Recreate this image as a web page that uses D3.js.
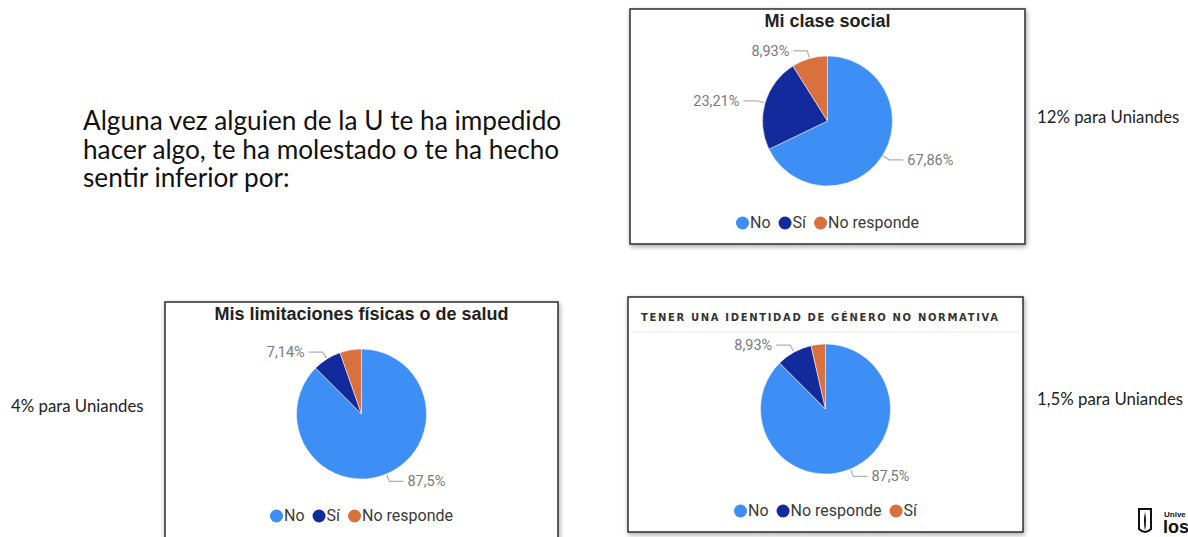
<!DOCTYPE html>
<html>
<head>
<meta charset="utf-8">
<script src="https://cdn.jsdelivr.net/npm/d3@7"></script>
<style>
  body { margin: 0; background: #fff; overflow: hidden; }
  svg { display: block; }
</style>
</head>
<body>
<div id="viz"></div>
<script>
// --- data ---
let headingLines = ['Alguna vez alguien de la U te ha impedido', 'hacer algo, te ha molestado o te ha hecho', 'sentir inferior por:'];

let claseTitle = 'Mi clase social';
let claseCats = ['No', 'Sí', 'No responde'];
let claseValues = [67.86, 23.21, 8.93];

let saludTitle = 'Mis limitaciones físicas o de salud';
let saludCats = ['No', 'Sí', 'No responde'];
let saludValues = [87.5, 7.14, 5.36];

let generoTitle = 'TENER UNA IDENTIDAD DE GÉNERO NO NORMATIVA';
let generoCats = ['No', 'No responde', 'Sí'];
let generoValues = [87.5, 8.93, 3.57];

let uniandesNotes = ['12% para Uniandes', '4% para Uniandes', '1,5% para Uniandes'];

let sliceColors = ['#3d8ef5', '#122a9c', '#d9713f'];

let width = 1188, height = 537;
let radius = 65;

let svg = d3.select('#viz').append('svg')
    .attr('width', width)
    .attr('height', height);

let defs = svg.append('defs');
defs.append('filter').attr('id', 'shadow')
    .attr('x', '-10%').attr('y', '-10%').attr('width', '120%').attr('height', '120%')
    .append('feDropShadow')
    .attr('dx', 1).attr('dy', 2).attr('stdDeviation', 2.5)
    .attr('flood-color', '#000').attr('flood-opacity', 0.35);

// heading on the left, one text per line
svg.selectAll('.heading')
    .data(headingLines)
    .enter()
    .append('text')
    .attr('class', 'heading')
    .attr('x', 83)
    .attr('y', (d, i) => 130 + i * 28.5)
    .style('font-family', 'Lato, sans-serif')
    .style('font-size', '26.2px')
    .style('fill', '#111')
    .text(d => d);

// notes beside the charts
let notePos = [[1037, 119], [11, 408], [1037, 401]];
svg.selectAll('.note')
    .data(uniandesNotes)
    .enter()
    .append('text')
    .attr('class', 'note')
    .attr('x', (d, i) => notePos[i][0])
    .attr('y', (d, i) => notePos[i][1])
    .attr('dominant-baseline', 'middle')
    .style('font-family', 'Lato, sans-serif')
    .style('font-size', '16.8px')
    .style('fill', '#222')
    .text(d => d);

let panels = [
    {title: claseTitle, cats: claseCats, values: claseValues, x: 630, y: 9, w: 395, h: 235, titleStyle: 'bold'},
    {title: saludTitle, cats: saludCats, values: saludValues, x: 165, y: 302, w: 393, h: 260, titleStyle: 'bold'},
    {title: generoTitle, cats: generoCats, values: generoValues, x: 628, y: 297, w: 395, h: 235, titleStyle: 'caps'}
];

for (let p of panels) {
    make_panel(p);
}

function make_panel(p) {
    let g = svg.append('g').attr('transform', 'translate(' + p.x + ',' + p.y + ')');

    g.append('rect')
        .attr('width', p.w)
        .attr('height', p.h)
        .attr('fill', '#fff')
        .attr('stroke', '#3a3a3a')
        .attr('stroke-width', 1.6)
        .attr('filter', 'url(#shadow)');

    if (p.titleStyle === 'bold') {
        g.append('text')
            .attr('x', p.w / 2)
            .attr('y', 18)
            .attr('text-anchor', 'middle')
            .style('font-family', '"Liberation Sans", Arial, sans-serif')
            .style('font-weight', 'bold')
            .style('font-size', '18px')
            .style('fill', '#222')
            .text(p.title);
    } else {
        g.append('text')
            .attr('x', 13)
            .attr('y', 24)
            .attr('textLength', 357)
            .attr('lengthAdjust', 'spacing')
            .style('font-family', '"DejaVu Sans", sans-serif')
            .style('font-weight', 'bold')
            .style('font-size', '10px')
            .style('fill', '#333')
            .text(p.title);
        g.append('line')
            .attr('x1', 2).attr('x2', p.w - 2)
            .attr('y1', 35).attr('y2', 35)
            .attr('stroke', '#f0f0f0')
            .attr('stroke-width', 1.5);
    }

    let cx = p.w / 2, cy = 112;

    let pie = d3.pie().sort(null).value(d => d.value);
    let data_ready = pie(p.cats.map((c, i) => ({key: c, value: p.values[i], idx: i})));

    let color = d3.scaleOrdinal().domain(p.cats).range(sliceColors);

    let arcGenerator = d3.arc().innerRadius(0).outerRadius(radius);

    let pieG = g.append('g').attr('transform', 'translate(' + cx + ',' + cy + ')');

    pieG.selectAll('path')
        .data(data_ready)
        .enter()
        .append('path')
        .attr('d', arcGenerator)
        .attr('fill', d => color(d.data.key))
        .attr('stroke', '#fff')
        .attr('stroke-width', 0.5);

    // leader lines + labels for the larger slices
    let labelled = data_ready.filter(d => d.data.value > 6);
    let pointAt = (a, r) => [r * Math.sin(a), -r * Math.cos(a)];

    pieG.selectAll('polyline')
        .data(labelled)
        .enter()
        .append('polyline')
        .attr('points', d => {
            let a = (d.startAngle + d.endAngle) / 2;
            let p1 = pointAt(a, radius + 1);
            let p2 = pointAt(a, radius + 8);
            let side = Math.sin(a) >= 0 ? 1 : -1;
            let p3 = [p2[0] + side * 14, p2[1]];
            return [p1, p2, p3].map(q => q.join(',')).join(' ');
        })
        .attr('fill', 'none')
        .attr('stroke', '#b0b0b0')
        .attr('stroke-width', 1.2);

    pieG.selectAll('.lbl')
        .data(labelled)
        .enter()
        .append('text')
        .attr('class', 'lbl')
        .attr('x', d => {
            let a = (d.startAngle + d.endAngle) / 2;
            let side = Math.sin(a) >= 0 ? 1 : -1;
            return pointAt(a, radius + 8)[0] + side * 18;
        })
        .attr('y', d => pointAt((d.startAngle + d.endAngle) / 2, radius + 8)[1] + 1)
        .attr('text-anchor', d => Math.sin((d.startAngle + d.endAngle) / 2) >= 0 ? 'start' : 'end')
        .attr('dominant-baseline', 'middle')
        .style('font-family', 'Roboto, sans-serif')
        .style('font-size', '14.5px')
        .style('fill', '#7a7a7a')
        .text(d => String(d.data.value).replace('.', ',') + '%');

    // legend, centred under the pie
    let leg = g.append('g').attr('transform', 'translate(0,214)');
    let items = leg.selectAll('g')
        .data(p.cats)
        .enter()
        .append('g');
    items.append('circle')
        .attr('r', 6.5)
        .attr('cx', 6.5)
        .attr('fill', d => color(d));
    items.append('text')
        .attr('x', 14)
        .attr('dominant-baseline', 'middle')
        .attr('y', 1)
        .style('font-family', 'Roboto, sans-serif')
        .style('font-size', '16px')
        .style('fill', '#3a3a3a')
        .text(d => d);

    let offsets = [], total = 0;
    items.each(function () {
        offsets.push(total);
        total += 14 + this.querySelector('text').getComputedTextLength() + 8;
    });
    total -= 8;
    let start = cx - total / 2;
    items.attr('transform', (d, i) => 'translate(' + (start + offsets[i]) + ',0)');
}

// university logo, as much of it as the slide shows
let logo = svg.append('g').attr('transform', 'translate(1138,507)');
logo.append('path')
    .attr('d', 'M1,2 L13,2 L13,22 Q7,28 1,22 Z')
    .attr('fill', 'none')
    .attr('stroke', '#111')
    .attr('stroke-width', 2);
logo.append('path')
    .attr('d', 'M7,5 Q5,14 7,24 Q9,14 7,5 Z')
    .attr('fill', '#111');
logo.append('text')
    .attr('x', 26).attr('y', 10)
    .style('font-family', '"Liberation Sans", Arial, sans-serif')
    .style('font-size', '8px')
    .style('font-weight', 'bold')
    .style('fill', '#111')
    .text('Unive');
logo.append('text')
    .attr('x', 25).attr('y', 26)
    .style('font-family', '"Liberation Sans", Arial, sans-serif')
    .style('font-size', '18px')
    .style('font-weight', 'bold')
    .style('fill', '#111')
    .text('los');
</script>
</body>
</html>
